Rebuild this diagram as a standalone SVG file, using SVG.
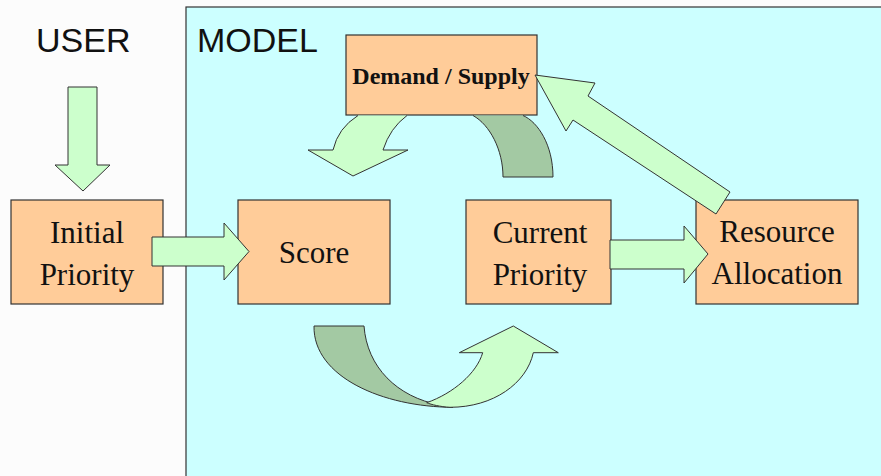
<svg xmlns="http://www.w3.org/2000/svg" width="881" height="476" viewBox="0 0 881 476">
<style>
.box{fill:#ffcc99;stroke:#333;stroke-width:1.2}
.lt{fill:#ccffcc;stroke:#333;stroke-width:1;stroke-linejoin:round}
.dk{fill:#a3c9a3;stroke:#333;stroke-width:1;stroke-linejoin:round}
.t{font-family:"Liberation Serif","Times New Roman",serif;font-size:31px;fill:#111;text-anchor:middle}
.h{font-family:"Liberation Sans",Arial,sans-serif;font-size:34px;fill:#111}
</style>
<rect width="881" height="476" fill="#fcfcfc"/>
<g id="model-panel">
<rect x="186" y="7" width="700" height="475" fill="#ccffff" stroke="#333" stroke-width="1.2"/>
</g>
<text class="h" x="36" y="52">USER</text>
<text class="h" x="197" y="52">MODEL</text>
<g id="initial-priority">
<rect class="box" x="11" y="200" width="152" height="104"/>
<text class="t" x="87" y="243">Initial</text>
<text class="t" x="87" y="285">Priority</text>
</g>
<g id="score">
<rect class="box" x="238" y="200" width="152" height="104"/>
<text class="t" x="314" y="263">Score</text>
</g>
<g id="current-priority">
<rect class="box" x="466" y="200" width="145" height="104"/>
<text class="t" x="540" y="243">Current</text>
<text class="t" x="540" y="285">Priority</text>
</g>
<g id="resource-allocation">
<rect class="box" x="696" y="200" width="162" height="104"/>
<text class="t" x="777" y="242">Resource</text>
<text class="t" x="777" y="284">Allocation</text>
</g>
<g id="demand-supply">
<rect class="box" x="346" y="35" width="191" height="80"/>
<text x="441" y="84" text-anchor="middle" font-family="'Liberation Serif','Times New Roman',serif" font-size="24" font-weight="bold" fill="#111">Demand / Supply</text>
</g>
<g id="connectors">
<path class="lt" d="M68,87 L97,87 L97,165 L110,165 L83,191 L55,165 L68,165 Z"/>
<path class="lt" d="M152,237 L224,237 L224,223 L249,251.5 L224,280 L224,266 L152,266 Z"/>
<path class="lt" d="M610,240 L684,240 L684,226 L708,254 L684,283 L684,269 L610,269 Z"/>
<path class="lt" d="M535,75 L595,83 L588,96 L730,192 L716,214 L573,120 L566,131 Z"/>
<path class="lt" d="M358,115.5 Q338,128 333,150 L308,150 L353,176 L408,150 L383,150 Q390,128 407,115.5"/>
<path class="dk" d="M473,115.5 C490,125 503,150 503,177 L553,177 C553,145 538,122 523,115.5"/>
<path class="dk" d="M314,326 L364,326 C367,367 397,397 440,405 L453,407.3 C383,407 313,377 314,326 Z"/>
<path class="lt" d="M426.7,402.7 C453.3,393.3 476.7,373.3 482.7,352.7 L459.3,352.7 L513.3,326 L558.3,352.7 L533.3,352.7 C526.7,383.3 493.3,407.3 450,407.3 C440,406.7 431.7,404.7 426.7,402.7 Z"/>
</g>
</svg>
